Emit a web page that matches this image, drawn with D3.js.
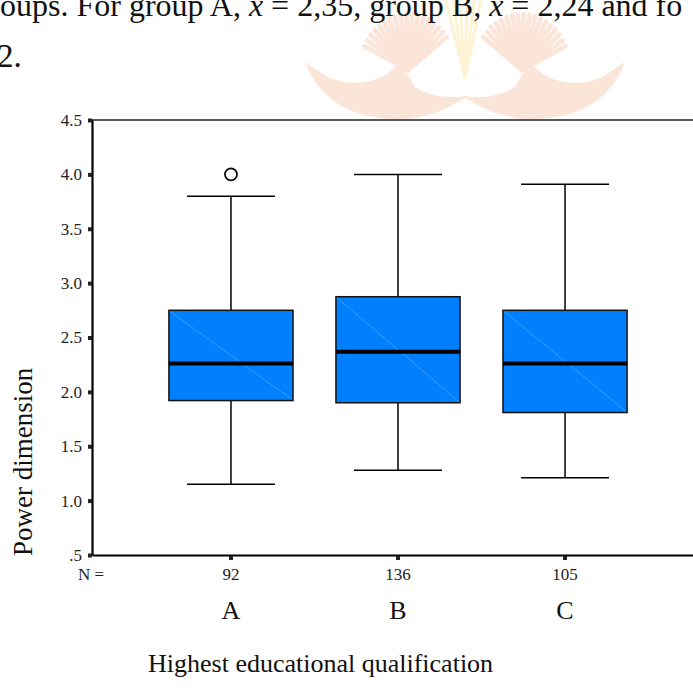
<!DOCTYPE html>
<html>
<head>
<meta charset="utf-8">
<script src="https://cdn.jsdelivr.net/npm/d3@7"></script>
<style>
  body { margin: 0; background: #fff; }
  svg { display: block; font-family: "Liberation Serif", "Times New Roman", serif; }
</style>
</head>
<body>
<svg id="chart" width="693" height="688"></svg>
<script>
// values
var groups = ["A", "B", "C"];
var counts = [92, 136, 105];
var whiskerLow = [1.15, 1.28, 1.21];
var q1 = [1.92, 1.90, 1.81];
var medians = [2.26, 2.37, 2.26];
var q3 = [2.75, 2.875, 2.75];
var whiskerHigh = [3.80, 4.00, 3.91];
var outliers = [[4.0], [], []];
var yTicks = [0.5, 1.0, 1.5, 2.0, 2.5, 3.0, 3.5, 4.0, 4.5];

var svg = d3.select('#chart');
var plot = {left: 92, top: 120, bottom: 555, right: 704};

// watermark behind everything (page decoration)
var wm = svg.append('g').attr('opacity', 0.26);
[0, 1].forEach(function(side){
  var g = wm.append('g');
  if (side) g.attr('transform', 'translate(930,0) scale(-1,1)');
  d3.range(-155, -30, 7).forEach(function(a){
    var r = a * Math.PI / 180;
    g.append('line')
      .attr('x1', 408).attr('y1', 70)
      .attr('x2', 408 + 48 * Math.cos(r)).attr('y2', 70 + 56 * Math.sin(r))
      .attr('stroke', '#f0986a').attr('stroke-width', 4.5).attr('stroke-linecap', 'round');
  });
  g.append('path')
    .attr('d', 'M305,62 C318,98 350,119 398,119 C430,119 452,106 468,96 C446,99 428,96 414,86 C410,76 404,68 396,66 C380,84 350,88 326,76 Z')
    .attr('fill', '#f0986a');
});
d3.range(446, 484, 7).forEach(function(x){
  wm.append('line')
    .attr('x1', 465).attr('y1', 78).attr('x2', x).attr('y2', 0)
    .attr('stroke', '#fad25a').attr('stroke-width', 3);
});

// running document text around the figure
svg.append('text').attr('x', 0).attr('y', 16).attr('font-size', 32).attr('fill', '#111')
  .html('oups. For group A, <tspan font-style="italic">x̄</tspan> = 2,35, group B, <tspan font-style="italic">x̄</tspan> = 2,24 and fo');
svg.append('text').attr('x', -3).attr('y', 67).attr('font-size', 33).attr('fill', '#111').text('2.');

var x = d3.scaleBand().domain(groups).range([plot.left, plot.right]).paddingOuter(0.332).paddingInner(0);
var y = d3.scaleLinear().domain([0.5, 4.5]).range([plot.bottom, plot.top]);
var boxW = x.bandwidth() * 0.743;
var capW = x.bandwidth() * 0.527;

// frame
svg.append('line').attr('x1', plot.left).attr('x2', plot.right).attr('y1', plot.top).attr('y2', plot.top)
  .attr('stroke', '#222').attr('stroke-width', 1.6);

var data = groups.map(function(g, i){
  return {g: g, n: counts[i], lo: whiskerLow[i], q1: q1[i], med: medians[i], q3: q3[i], hi: whiskerHigh[i], out: outliers[i]};
});

var box = svg.selectAll('g.box').data(data).enter().append('g').attr('class', 'box')
  .attr('transform', function(d){ return 'translate(' + (x(d.g) + x.bandwidth() / 2) + ',0)'; });

box.append('line').attr('x1', 0).attr('x2', 0)
  .attr('y1', function(d){ return y(d.hi); }).attr('y2', function(d){ return y(d.lo); })
  .attr('stroke', '#000').attr('stroke-width', 1.5);
box.append('line').attr('x1', -capW / 2).attr('x2', capW / 2)
  .attr('y1', function(d){ return y(d.hi); }).attr('y2', function(d){ return y(d.hi); })
  .attr('stroke', '#000').attr('stroke-width', 1.5);
box.append('line').attr('x1', -capW / 2).attr('x2', capW / 2)
  .attr('y1', function(d){ return y(d.lo); }).attr('y2', function(d){ return y(d.lo); })
  .attr('stroke', '#000').attr('stroke-width', 1.5);
box.append('rect').attr('x', -boxW / 2).attr('width', boxW)
  .attr('y', function(d){ return y(d.q3); })
  .attr('height', function(d){ return y(d.q1) - y(d.q3); })
  .attr('fill', '#0080ff').attr('stroke', '#111').attr('stroke-width', 1.5);
box.append('line').attr('x1', -boxW / 2 + 1).attr('x2', boxW / 2 - 1)
  .attr('y1', function(d){ return y(d.q3) + 1; }).attr('y2', function(d){ return y(d.q1) - 1; })
  .attr('stroke', '#5aaeff').attr('stroke-width', 0.6);
box.append('line').attr('x1', -boxW / 2).attr('x2', boxW / 2)
  .attr('y1', function(d){ return y(d.med); }).attr('y2', function(d){ return y(d.med); })
  .attr('stroke', '#000').attr('stroke-width', 4);
box.selectAll('circle').data(function(d){ return d.out; }).enter().append('circle')
  .attr('cx', 0).attr('cy', function(v){ return y(v); }).attr('r', 6)
  .attr('fill', '#fff').attr('stroke', '#000').attr('stroke-width', 1.7);

// y axis
var yAxis = svg.append('g').attr('transform', 'translate(' + plot.left + ',0)')
  .call(d3.axisLeft(y).tickValues(yTicks).tickSize(0).tickPadding(10)
    .tickFormat(function(v){ return d3.format('.1f')(v).replace(/^0/, ''); }));
yAxis.select('.domain').attr('stroke', '#000').attr('stroke-width', 2.2);
yAxis.selectAll('.tick text').attr('font-family', '"Liberation Serif", serif').attr('font-size', 17).attr('fill', '#222');
yAxis.selectAll('.tick').append('rect').attr('x', -4).attr('y', -2).attr('width', 4).attr('height', 4).attr('fill', '#222');

// x axis
var xAxis = svg.append('g').attr('transform', 'translate(0,' + plot.bottom + ')')
  .call(d3.axisBottom(x).tickSize(0).tickFormat(''));
xAxis.select('.domain').attr('stroke', '#000').attr('stroke-width', 2.2);
xAxis.selectAll('.tick').append('rect').attr('x', -2).attr('y', 1).attr('width', 4).attr('height', 4).attr('fill', '#222');

svg.append('text').attr('x', 78).attr('y', 580).attr('font-size', 17).attr('fill', '#222').text('N =');
svg.selectAll('text.n').data(data).enter().append('text').attr('class', 'n')
  .attr('x', function(d){ return x(d.g) + x.bandwidth() / 2; }).attr('y', 580)
  .attr('text-anchor', 'middle').attr('font-size', 17).attr('fill', '#222')
  .text(function(d){ return d.n; });
svg.selectAll('text.cat').data(data).enter().append('text').attr('class', 'cat')
  .attr('x', function(d){ return x(d.g) + x.bandwidth() / 2; }).attr('y', 619)
  .attr('text-anchor', 'middle').attr('font-size', 26).attr('fill', '#111')
  .text(function(d){ return d.g; });

svg.append('text').attr('x', 148).attr('y', 672).attr('font-size', 26).attr('fill', '#111')
  .text('Highest educational qualification');
svg.append('text').attr('transform', 'translate(32,556) rotate(-90)').attr('font-size', 27).attr('fill', '#111')
  .text('Power dimension');
</script>
</body>
</html>
